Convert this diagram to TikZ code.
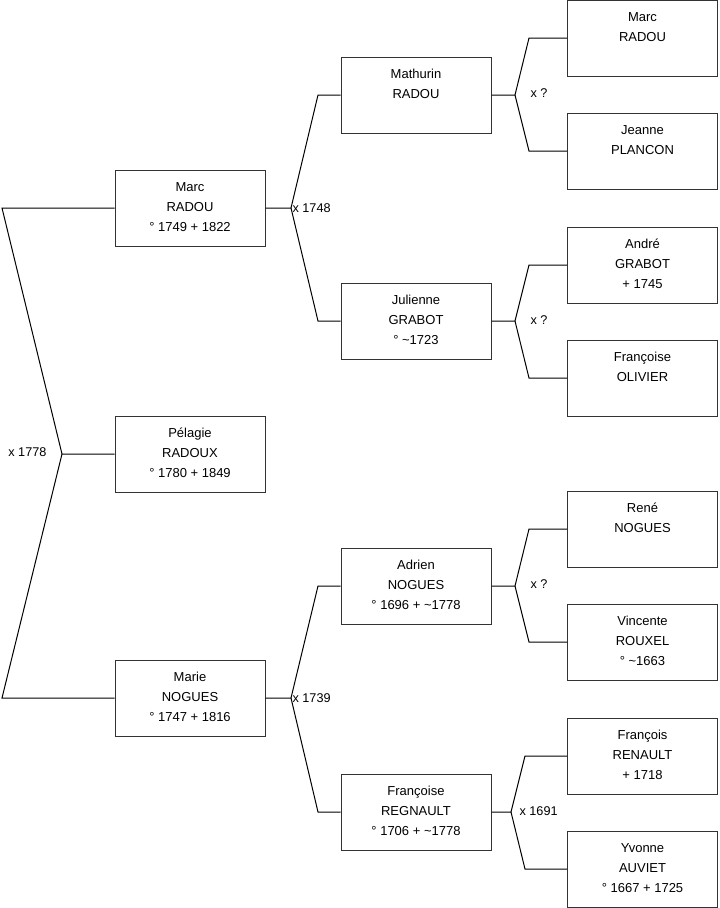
\documentclass[tikz,border=0pt]{standalone}
\usepackage{fontspec}
\setmainfont{Liberation Sans}
\usepackage{xcolor}
\definecolor{cbox}{HTML}{333333}

\tikzset{
  person/.style={draw=cbox, line width=0.75pt, minimum width=112.5pt,
        minimum height=57pt, align=center, inner sep=0pt, text depth=1.5pt,
        font=\fontsize{9.75}{15}\selectfont},
  link/.style={draw=black, line width=0.75pt},
  union/.style={inner sep=1pt, font=\fontsize{9.5}{11}\selectfont}
}

\begin{document}
\begin{tikzpicture}[x=0.75pt, y=-0.75pt]
  \useasboundingbox (0,0) rectangle (719,908);

  % generation 1
  \node[person] (marcP)   at (190,208) {Marc\\RADOU\\° 1749 + 1822};
  \node[person] (pelagie) at (190,454) {Pélagie\\RADOUX\\° 1780 + 1849};
  \node[person] (marie)   at (190,698) {Marie\\NOGUES\\° 1747 + 1816};

  % generation 2
  \node[person] (mathurin)  at (416,95)  {Mathurin\\RADOU\\~};
  \node[person] (julienne)  at (416,321) {Julienne\\GRABOT\\° \textasciitilde1723};
  \node[person] (adrien)    at (416,586) {Adrien\\NOGUES\\° 1696 + \textasciitilde1778};
  \node[person] (francoiseR) at (416,812) {Françoise\\REGNAULT\\° 1706 + \textasciitilde1778};

  % generation 3
  \node[person] (marcR)      at (642.5,38)  {Marc\\RADOU\\~};
  \node[person] (jeanne)     at (642.5,151) {Jeanne\\PLANCON\\~};
  \node[person] (andre)      at (642.5,265) {André\\GRABOT\\+ 1745};
  \node[person] (francoiseO) at (642.5,378) {Françoise\\OLIVIER\\~};
  \node[person] (rene)       at (642.5,529) {René\\NOGUES\\~};
  \node[person] (vincente)   at (642.5,642) {Vincente\\ROUXEL\\° \textasciitilde1663};
  \node[person] (francois)   at (642.5,756) {François\\RENAULT\\+ 1718};
  \node[person] (yvonne)     at (642.5,869) {Yvonne\\AUVIET\\° 1667 + 1725};

  % marriage forks
  \coordinate (v0) at (62,454);
  \coordinate (t0) at (2,208);
  \coordinate (b0) at (2,698);
  \draw[link] (marcP.west) -- (t0) -- (v0) -- (pelagie.west);
  \draw[link] (v0) -- (b0) -- (marie.west);
  \node[union, anchor=east] (m0) at (48,452) {x 1778};

  \coordinate (v1) at (291,208);
  \coordinate (t1) at (318,95);
  \coordinate (b1) at (318,321);
  \draw[link] (marcP.east) -- (v1) -- (t1) -- (mathurin.west);
  \draw[link] (v1) -- (b1) -- (julienne.west);
  \node[union, anchor=west] (m1) at (v1) {x 1748};

  \coordinate (v2) at (291,698);
  \coordinate (t2) at (318,586);
  \coordinate (b2) at (318,812);
  \draw[link] (marie.east) -- (v2) -- (t2) -- (adrien.west);
  \draw[link] (v2) -- (b2) -- (francoiseR.west);
  \node[union, anchor=west] (m2) at (v2) {x 1739};

  \coordinate (v3) at (515,95);
  \coordinate (t3) at (529,38);
  \coordinate (b3) at (529,151);
  \draw[link] (mathurin.east) -- (v3) -- (t3) -- (marcR.west);
  \draw[link] (v3) -- (b3) -- (jeanne.west);
  \node[union, anchor=west] (m3) at (529,93) {x ?};

  \coordinate (v4) at (515,321);
  \coordinate (t4) at (529,265);
  \coordinate (b4) at (529,378);
  \draw[link] (julienne.east) -- (v4) -- (t4) -- (andre.west);
  \draw[link] (v4) -- (b4) -- (francoiseO.west);
  \node[union, anchor=west] (m4) at (529,320) {x ?};

  \coordinate (v5) at (515,586);
  \coordinate (t5) at (529,529);
  \coordinate (b5) at (529,642);
  \draw[link] (adrien.east) -- (v5) -- (t5) -- (rene.west);
  \draw[link] (v5) -- (b5) -- (vincente.west);
  \node[union, anchor=west] (m5) at (529,584) {x ?};

  \coordinate (v6) at (511,812);
  \coordinate (t6) at (525,756);
  \coordinate (b6) at (525,869);
  \draw[link] (francoiseR.east) -- (v6) -- (t6) -- (francois.west);
  \draw[link] (v6) -- (b6) -- (yvonne.west);
  \node[union, anchor=west] (m6) at (518,811) {x 1691};
\end{tikzpicture}
\end{document}
